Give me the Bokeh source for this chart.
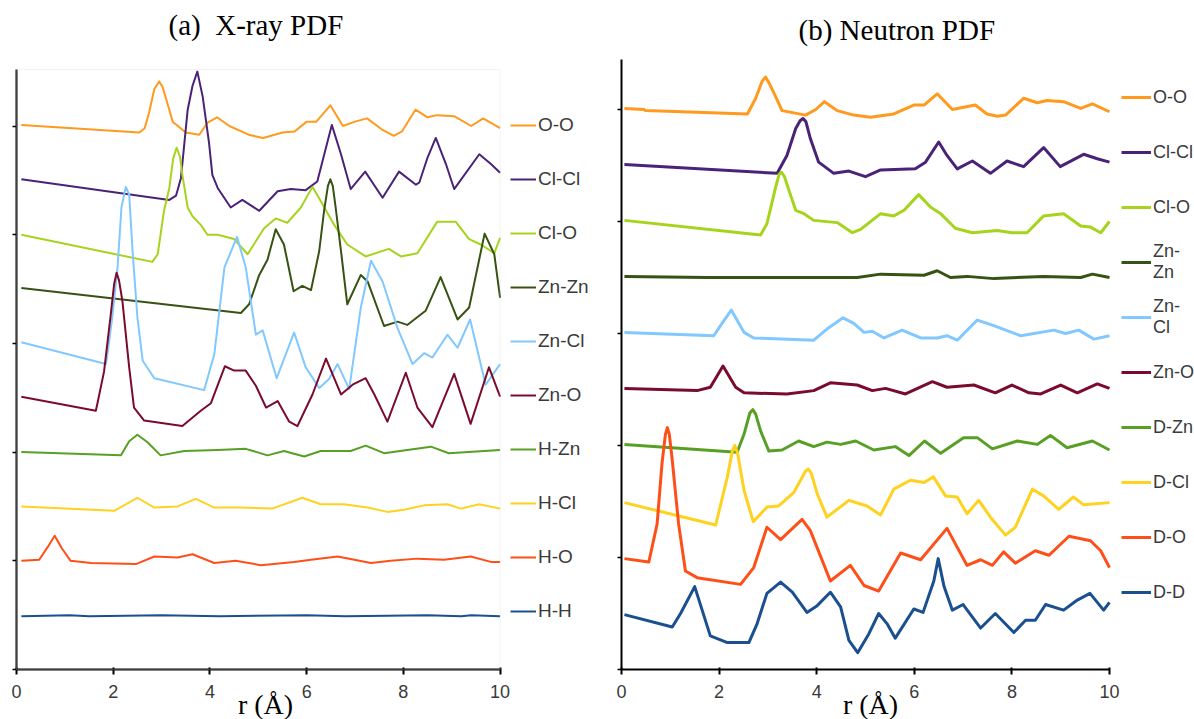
from bokeh.plotting import figure
from bokeh.models import Range1d, FixedTicker, Legend, LegendItem, BoxAnnotation, Label
from bokeh.layouts import row
from bokeh.embed import file_html
from bokeh.resources import INLINE

# ---------------- shared ----------------
r_ticks = [0, 2, 4, 6, 8, 10]
r_tick_labels = ["0", "2", "4", "6", "8", "10"]
y_ticks = [0, 1, 2, 3, 4, 5]
xray_pairs = ["O-O", "Cl-Cl", "Cl-O", "Zn-Zn", "Zn-Cl", "Zn-O", "H-Zn", "H-Cl", "H-O", "H-H"]
neutron_pairs = ["O-O", "Cl-Cl", "Cl-O", "Zn-\nZn", "Zn-\nCl", "Zn-O", "D-Zn", "D-Cl", "D-O", "D-D"]
pair_colors = ["#ff9a1f", "#4a2278", "#a6d41c", "#375213", "#80c8ff",
               "#7b0b2c", "#58a024", "#ffd21f", "#ff4f19", "#1a4f90"]
titles = ["(a)\u00a0 X-ray PDF", "(b) Neutron PDF"]
x_label = "r (Å)"
r_max = 10
xray_y_top = 5.52
neut_y_top = 5.45

# ---------------- (a) X-ray PDF (offset partial g(r)) ----------------
xray_OO_r = [0.1, 2.54, 2.65, 2.74, 2.85, 2.95, 3.02, 3.12, 3.23, 3.5, 3.78, 3.95, 4.15, 4.4, 4.8, 5.1,
             5.5, 5.75, 6.0, 6.2, 6.49, 6.75, 7.0, 7.25, 7.55, 7.8, 7.97, 8.25, 8.5, 8.7, 9.05, 9.4, 9.65, 10]
xray_OO_g = [5.01, 4.94, 4.98, 5.12, 5.34, 5.41, 5.36, 5.21, 5.04, 4.94, 4.92, 5.03, 5.08, 5.0, 4.92, 4.89,
             4.94, 4.95, 5.04, 5.04, 5.19, 5.0, 5.04, 5.07, 4.97, 4.91, 4.95, 5.15, 5.08, 5.10, 5.09, 5.0, 5.07, 4.98]

xray_ClCl_r = [0.1, 3.16, 3.30, 3.40, 3.54, 3.64, 3.74, 3.85, 3.98, 4.05, 4.16, 4.43, 4.67, 5.02, 5.40, 5.67,
               5.98, 6.22, 6.33, 6.52, 6.71, 6.91, 7.21, 7.57, 7.91, 8.26, 8.33, 8.50, 8.67, 8.88, 9.05, 9.57, 9.81, 10]
xray_ClCl_g = [4.51, 4.32, 4.36, 4.52, 5.15, 5.37, 5.50, 5.27, 4.85, 4.55, 4.43, 4.25, 4.32, 4.22, 4.40, 4.42,
               4.41, 4.49, 4.68, 5.01, 4.74, 4.42, 4.58, 4.34, 4.58, 4.46, 4.48, 4.71, 4.89, 4.65, 4.42, 4.74, 4.65, 4.57]

xray_ClO_r = [0.1, 2.81, 2.92, 3.05, 3.16, 3.24, 3.31, 3.38, 3.43, 3.54, 3.64, 3.81, 3.95, 4.16, 4.50, 4.78,
              5.12, 5.36, 5.60, 5.88, 6.12, 6.29, 6.57, 6.84, 7.22, 7.70, 7.95, 8.29, 8.70, 9.08, 9.36, 9.60,
              9.88, 10]
xray_ClO_g = [4.00, 3.75, 3.82, 4.22, 4.43, 4.70, 4.80, 4.72, 4.55, 4.25, 4.17, 4.09, 4.00, 4.00, 3.96, 3.82,
              4.06, 4.15, 4.11, 4.25, 4.44, 4.31, 4.09, 3.91, 3.80, 3.87, 3.80, 3.83, 4.12, 4.12, 3.96, 3.91,
              3.83, 3.97]

xray_ZnZn_r = [0.1, 4.64, 4.81, 5.02, 5.19, 5.36, 5.53, 5.73, 5.91, 6.09, 6.26, 6.36, 6.44, 6.49, 6.54, 6.60,
               6.71, 6.84, 7.12, 7.26, 7.60, 7.88, 8.08, 8.46, 8.77, 9.12, 9.36, 9.68, 9.88, 10]
xray_ZnZn_g = [3.51, 3.28, 3.36, 3.63, 3.77, 4.05, 3.91, 3.48, 3.53, 3.49, 3.85, 4.22, 4.45, 4.51, 4.45, 4.25,
               3.85, 3.36, 3.63, 3.57, 3.16, 3.20, 3.17, 3.30, 3.61, 3.22, 3.33, 4.01, 3.82, 3.42]

xray_ZnCl_r = [0.1, 1.85, 1.88, 1.98, 2.09, 2.17, 2.26, 2.33, 2.40, 2.50, 2.61, 2.85, 3.88, 4.09, 4.30, 4.56,
               4.74, 4.95, 5.09, 5.38, 5.74, 5.98, 6.26, 6.46, 6.64, 6.88, 7.12, 7.33, 7.57, 7.88, 8.19, 8.43,
               8.60, 8.91, 9.12, 9.38, 9.70, 10]
xray_ZnCl_g = [3.01, 2.81, 2.90, 3.24, 3.70, 4.25, 4.44, 4.37, 3.85, 3.24, 2.84, 2.68, 2.57, 2.90, 3.70, 3.98,
               3.70, 3.08, 3.12, 2.68, 3.10, 2.78, 2.59, 2.67, 2.81, 2.58, 3.33, 3.76, 3.57, 3.14, 2.81, 2.91,
               2.87, 3.08, 2.96, 3.22, 2.62, 2.81]

xray_ZnO_r = [0.1, 1.64, 1.67, 1.81, 1.95, 2.02, 2.07, 2.12, 2.19, 2.33, 2.43, 2.64, 3.43, 3.81, 4.02, 4.31,
              4.50, 4.74, 4.95, 5.16, 5.40, 5.64, 5.81, 6.12, 6.40, 6.71, 6.95, 7.22, 7.40, 7.67, 8.05, 8.29,
              8.60, 9.05, 9.39, 9.77, 10]
xray_ZnO_g = [2.51, 2.38, 2.44, 2.74, 3.27, 3.55, 3.65, 3.58, 3.39, 2.78, 2.41, 2.29, 2.24, 2.38, 2.45, 2.79,
              2.75, 2.75, 2.61, 2.41, 2.47, 2.28, 2.24, 2.53, 2.86, 2.53, 2.62, 2.68, 2.53, 2.28, 2.73, 2.41,
              2.23, 2.72, 2.26, 2.78, 2.51]

xray_HZn_r = [0.1, 2.16, 2.33, 2.50, 2.71, 2.98, 3.47, 4.16, 4.74, 5.19, 5.53, 5.95, 6.29, 6.91, 7.22, 7.60,
              8.08, 8.57, 8.94, 9.67, 10]
xray_HZn_g = [2.00, 1.97, 2.10, 2.16, 2.09, 1.97, 2.01, 2.02, 2.03, 1.97, 2.01, 1.96, 2.01, 2.01, 2.06, 1.99,
              2.02, 2.05, 1.99, 2.01, 2.02]

xray_HCl_r = [0.1, 2.02, 2.50, 2.85, 3.33, 3.71, 4.09, 4.64, 5.29, 5.91, 6.29, 6.77, 7.26, 7.67, 8.01, 8.43,
              8.91, 9.19, 9.57, 10]
xray_HCl_g = [1.50, 1.46, 1.58, 1.49, 1.50, 1.57, 1.49, 1.49, 1.48, 1.58, 1.52, 1.52, 1.49, 1.45, 1.47, 1.51,
              1.52, 1.48, 1.52, 1.48]

xray_HO_r = [0.1, 0.47, 0.65, 0.79, 0.93, 1.12, 1.54, 2.47, 2.85, 3.33, 3.64, 4.09, 4.53, 5.05, 5.74, 6.09,
             6.64, 7.33, 7.74, 8.29, 8.84, 9.39, 9.81, 10]
xray_HO_g = [1.00, 1.01, 1.13, 1.23, 1.12, 1.00, 0.98, 0.97, 1.04, 1.03, 1.06, 0.98, 1.00, 0.96, 0.99, 1.01,
             1.04, 0.98, 1.00, 1.02, 1.01, 1.04, 0.99, 0.99]

xray_HH_r = [0.1, 1.1, 1.5, 3.0, 4.2, 6.0, 6.8, 8.5, 9.2, 9.4, 10]
xray_HH_g = [0.49, 0.50, 0.49, 0.50, 0.49, 0.50, 0.49, 0.50, 0.49, 0.50, 0.49]

# ---------------- (b) Neutron PDF (offset partial g(r)) ----------------
neut_OO_r = [0.06, 0.46, 0.49, 2.58, 2.75, 2.88, 2.95, 3.02, 3.12, 3.29, 3.77, 3.98, 4.16, 4.42, 4.76, 5.10,
             5.58, 5.99, 6.20, 6.47, 6.78, 7.01, 7.25, 7.49, 7.70, 7.87, 8.24, 8.52, 8.72, 9.06, 9.41, 9.65, 10]
neut_OO_g = [5.01, 5.00, 4.99, 4.96, 5.10, 5.25, 5.29, 5.24, 5.15, 4.99, 4.95, 5.00, 5.07, 4.99, 4.95, 4.93,
             4.96, 5.04, 5.04, 5.14, 5.00, 5.02, 5.04, 4.96, 4.94, 4.95, 5.10, 5.06, 5.08, 5.07, 5.01, 5.05, 4.98]

neut_ClCl_r = [0.06, 3.19, 3.39, 3.57, 3.66, 3.72, 3.78, 3.87, 4.04, 4.35, 4.66, 5.00, 5.31, 6.02, 6.23, 6.50,
               6.67, 6.88, 7.19, 7.56, 7.90, 8.24, 8.65, 8.99, 9.47, 9.75, 10]
neut_ClCl_g = [4.51, 4.43, 4.59, 4.83, 4.90, 4.92, 4.89, 4.74, 4.53, 4.43, 4.45, 4.40, 4.46, 4.47, 4.53, 4.71,
               4.59, 4.47, 4.54, 4.43, 4.54, 4.49, 4.66, 4.49, 4.60, 4.56, 4.53]

neut_ClO_r = [0.06, 2.85, 2.98, 3.16, 3.23, 3.28, 3.34, 3.43, 3.57, 3.74, 3.94, 4.42, 4.73, 4.90, 5.31, 5.58,
              5.79, 6.09, 6.33, 6.54, 6.84, 7.19, 7.70, 8.00, 8.31, 8.65, 9.06, 9.41, 9.61, 9.82, 10]
neut_ClO_g = [4.01, 3.88, 3.98, 4.31, 4.42, 4.44, 4.40, 4.28, 4.10, 4.07, 4.01, 3.99, 3.90, 3.93, 4.07, 4.05,
              4.10, 4.24, 4.13, 4.07, 3.94, 3.90, 3.92, 3.90, 3.90, 4.05, 4.07, 3.96, 3.95, 3.90, 4.00]

neut_ZnZn_r = [0.06, 1.76, 4.83, 5.31, 6.20, 6.47, 6.74, 7.08, 7.63, 8.65, 9.41, 9.65, 10]
neut_ZnZn_g = [3.51, 3.50, 3.50, 3.53, 3.52, 3.56, 3.50, 3.51, 3.49, 3.51, 3.50, 3.53, 3.50]

neut_ZnCl_r = [0.06, 1.89, 2.06, 2.25, 2.51, 2.71, 3.94, 4.21, 4.54, 4.76, 4.97, 5.14, 5.38, 5.75, 6.13, 6.47,
               6.67, 6.88, 7.29, 7.63, 8.18, 8.86, 9.10, 9.37, 9.68, 10]
neut_ZnCl_g = [3.01, 2.98, 3.09, 3.21, 3.01, 2.96, 2.94, 3.04, 3.14, 3.09, 3.01, 3.02, 2.96, 3.03, 2.96, 2.96,
               2.98, 2.94, 3.12, 3.07, 2.98, 3.03, 3.00, 3.03, 2.95, 2.98]

neut_ZnO_r = [0.06, 1.55, 1.82, 2.08, 2.34, 2.51, 3.39, 3.94, 4.28, 4.83, 5.14, 5.41, 5.82, 6.37, 6.67, 7.22,
              7.66, 8.00, 8.35, 8.59, 9.00, 9.34, 9.75, 10]
neut_ZnO_g = [2.51, 2.49, 2.52, 2.71, 2.52, 2.47, 2.46, 2.49, 2.56, 2.54, 2.49, 2.51, 2.46, 2.57, 2.52, 2.54,
              2.47, 2.54, 2.47, 2.46, 2.54, 2.47, 2.55, 2.51]

neut_DZn_r = [0.06, 2.37, 2.51, 2.63, 2.69, 2.75, 2.85, 3.02, 3.29, 3.63, 3.94, 4.21, 4.49, 4.80, 5.17, 5.61,
              5.89, 6.21, 6.54, 7.01, 7.29, 7.60, 8.11, 8.52, 8.79, 9.13, 9.65, 10]
neut_DZn_g = [2.01, 1.94, 2.10, 2.29, 2.32, 2.28, 2.13, 1.95, 1.96, 2.04, 1.99, 2.03, 2.01, 2.04, 1.96, 1.99,
              1.91, 2.04, 1.93, 2.07, 2.07, 1.97, 2.04, 2.01, 2.09, 1.98, 2.04, 1.96]

neut_DCl_r = [0.06, 1.93, 2.17, 2.27, 2.32, 2.38, 2.51, 2.70, 2.98, 3.22, 3.53, 3.77, 3.83, 3.89, 4.01, 4.21,
              4.66, 5.03, 5.31, 5.58, 5.92, 6.20, 6.39, 6.64, 6.88, 7.08, 7.32, 7.56, 7.87, 8.07, 8.42, 8.65,
              8.96, 9.26, 9.47, 10]
neut_DCl_g = [1.49, 1.29, 1.72, 1.95, 2.00, 1.93, 1.60, 1.32, 1.45, 1.46, 1.58, 1.77, 1.79, 1.75, 1.57, 1.36,
              1.51, 1.46, 1.38, 1.61, 1.69, 1.67, 1.72, 1.55, 1.54, 1.39, 1.51, 1.36, 1.20, 1.27, 1.61, 1.55,
              1.43, 1.54, 1.47, 1.49]

neut_DO_r = [0.06, 0.56, 0.73, 0.83, 0.90, 0.94, 0.98, 1.04, 1.17, 1.31, 1.55, 2.44, 2.71, 2.98, 3.26, 3.70,
             3.87, 4.28, 4.69, 4.97, 5.27, 5.72, 6.13, 6.67, 7.08, 7.36, 7.60, 7.83, 8.07, 8.48, 8.76, 9.17,
             9.61, 9.82, 10]
neut_DO_g = [0.99, 0.96, 1.30, 1.84, 2.10, 2.16, 2.10, 1.87, 1.30, 0.88, 0.82, 0.76, 0.91, 1.27, 1.16, 1.34,
             1.24, 0.79, 0.93, 0.75, 0.70, 1.04, 0.98, 1.26, 0.93, 0.98, 0.93, 1.05, 0.95, 1.06, 1.02, 1.19,
             1.15, 1.06, 0.91]

neut_DD_r = [0.06, 1.04, 1.21, 1.50, 1.82, 2.17, 2.61, 2.78, 2.98, 3.26, 3.50, 3.80, 4.01, 4.28, 4.49, 4.66,
             4.84, 5.07, 5.27, 5.44, 5.61, 5.99, 6.18, 6.40, 6.49, 6.61, 6.78, 7.00, 7.36, 7.66, 8.04, 8.28,
             8.48, 8.69, 9.06, 9.34, 9.60, 9.88, 10]
neut_DD_g = [0.49, 0.38, 0.50, 0.74, 0.30, 0.24, 0.24, 0.41, 0.68, 0.78, 0.69, 0.51, 0.57, 0.69, 0.56, 0.26,
             0.15, 0.32, 0.50, 0.41, 0.28, 0.54, 0.51, 0.79, 0.99, 0.74, 0.53, 0.58, 0.37, 0.50, 0.33, 0.44,
             0.44, 0.58, 0.53, 0.62, 0.68, 0.53, 0.60]

xray_r = [xray_OO_r, xray_ClCl_r, xray_ClO_r, xray_ZnZn_r, xray_ZnCl_r,
          xray_ZnO_r, xray_HZn_r, xray_HCl_r, xray_HO_r, xray_HH_r]
xray_g = [xray_OO_g, xray_ClCl_g, xray_ClO_g, xray_ZnZn_g, xray_ZnCl_g,
          xray_ZnO_g, xray_HZn_g, xray_HCl_g, xray_HO_g, xray_HH_g]
neut_r = [neut_OO_r, neut_ClCl_r, neut_ClO_r, neut_ZnZn_r, neut_ZnCl_r,
          neut_ZnO_r, neut_DZn_r, neut_DCl_r, neut_DO_r, neut_DD_r]
neut_g = [neut_OO_g, neut_ClCl_g, neut_ClO_g, neut_ZnZn_g, neut_ZnCl_g,
          neut_ZnO_g, neut_DZn_g, neut_DCl_g, neut_DO_g, neut_DD_g]

SANS = "Liberation Sans"
SERIF = "Liberation Serif"
H = 719
AXIS_PX = 50      # gap from canvas bottom up to the r axis


def make_panel(title, title_x, title_y, rs, gs, names, lw, px_per_r, px_per_unit,
               W, left_px, legend_loc, glyph_w, item_h, spacing, leg_fs, y_top):
    # the frame covers the whole canvas; the axes sit at r=0 / g=0 inside it
    p = figure(width=W, height=H,
               x_range=Range1d(-left_px / px_per_r, (W - left_px) / px_per_r),
               y_range=Range1d(-AXIS_PX / px_per_unit, (H - AXIS_PX) / px_per_unit),
               output_backend="svg", toolbar_location=None)
    p.min_border_left = 0
    p.min_border_right = 0
    p.min_border_top = 0
    p.min_border_bottom = 0
    p.background_fill_color = "white"
    p.border_fill_color = "white"
    p.grid.visible = False
    p.outline_line_color = None

    xa = p.xaxis[0]
    xa.fixed_location = 0
    xa.ticker = FixedTicker(ticks=r_ticks)
    xa.bounds = (0, r_max)
    xa.major_label_overrides = {t: l for t, l in zip(r_ticks, r_tick_labels)}
    xa.axis_line_color = "black"
    xa.axis_line_width = 2
    xa.major_tick_line_color = "black"
    xa.major_tick_line_width = 2
    xa.major_tick_out = 5
    xa.major_tick_in = 2
    xa.minor_tick_line_color = None
    xa.major_label_text_font = SANS
    xa.major_label_text_font_size = "18px"
    xa.major_label_text_color = "#3a3a3a"
    xa.major_label_standoff = 10

    ya = p.yaxis[0]
    ya.fixed_location = 0
    ya.ticker = FixedTicker(ticks=y_ticks)
    ya.major_label_overrides = {t: "" for t in y_ticks}
    ya.major_label_standoff = 0
    ya.bounds = (0, y_top)
    ya.axis_line_color = "black"
    ya.axis_line_width = 2
    ya.major_tick_line_color = "black"
    ya.major_tick_line_width = 1.5
    ya.major_tick_out = 4
    ya.major_tick_in = 0
    ya.minor_tick_line_color = None

    items = []
    for r, g, name, c in zip(rs, gs, names, pair_colors):
        rend = p.line(r, g, line_color=c, line_width=lw, line_join="round")
        items.append(LegendItem(label=name, renderers=[rend]))

    leg = Legend(items=items, location=legend_loc, orientation="vertical",
                 padding=0, margin=0, spacing=spacing, glyph_height=item_h, label_height=item_h,
                 glyph_width=glyph_w, label_standoff=2,
                 border_line_color=None, background_fill_alpha=0,
                 label_text_font=SANS, label_text_font_size=leg_fs,
                 label_text_color="#3a3a3a")
    p.add_layout(leg, "center")

    p.add_layout(Label(x=title_x, y=title_y, x_units="screen", y_units="screen",
                       text=title, text_font=SERIF, text_font_size="29px",
                       text_color="black", text_align="left", text_baseline="alphabetic"))
    p.add_layout(Label(x=left_px + 249, y=15, x_units="screen", y_units="screen",
                       text=x_label, text_font=SERIF, text_font_size="28px",
                       text_color="black", text_align="center", text_baseline="alphabetic"))
    return p


# left panel: r axis from 16 px, 48.36 px per Angstrom, 108.7 px per tick
pa = make_panel(titles[0], 168, 695, xray_r, xray_g, xray_pairs, 2, 48.36, 108.7,
                600, 16, (510, 88), 26, 40, 14, "19px", xray_y_top)
pa.add_layout(BoxAnnotation(left=0, right=r_max, bottom=0, top=xray_y_top,
                            fill_alpha=0, line_color="#d4d4d4", line_width=1))
# right panel: r axis from 21 px, 48.8 px per Angstrom, 112 px per tick
pb = make_panel(titles[1], 198, 690, neut_r, neut_g, neutron_pairs, 3, 48.8, 112.0,
                594, 21, (521, 105), 30, 44, 11, "18px", neut_y_top)

layout = row(pa, pb)
open("out.html", "w").write(file_html(layout, INLINE))
